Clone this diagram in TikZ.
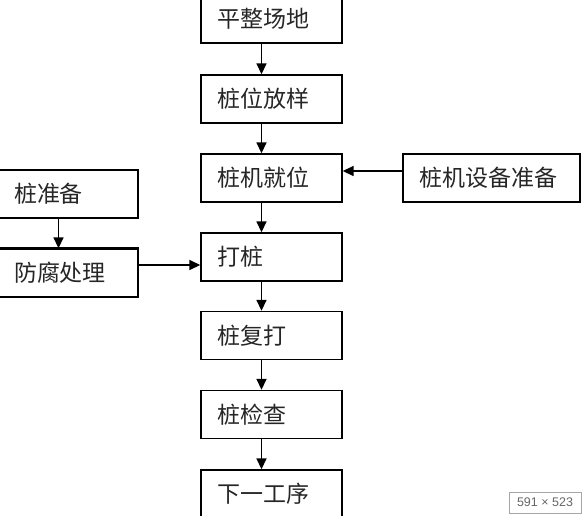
\documentclass[tikz,border=0pt]{standalone}
\usepackage{fontspec}
\newfontfamily\cjk{Noto Sans CJK SC}
\newfontfamily\uifont{Liberation Sans}
\usetikzlibrary{arrows.meta}
\tikzset{
  box/.style={draw, line width=1.4pt, inner xsep=16pt, inner ysep=0pt,
    minimum height=48pt, align=left, font=\cjk\fontsize{23}{26}\selectfont, text=black!85},
  flow/.style={line width=1.6pt, -{Triangle[length=11pt,width=10pt]}}
}
\begin{document}
\begin{tikzpicture}[x=1pt,y=-1pt]
      \useasboundingbox (0,0) rectangle (582,515);
      \draw
        (271.5,19) node[box, text width=109pt] (pingzheng){平整场地}
        (271.5,99) node[box, text width=109pt] (zhuangwei){桩位放样}
        (271.5,178) node[box, text width=109pt] (jiuwei){桩机就位}
        (271.5,257) node[box, text width=109pt] (dazhuang){打桩}
        (271.5,335.5) node[box, text width=109pt] (fuda){桩复打}
        (271.5,414.5) node[box, text width=109pt] (jiancha){桩检查}
        (271.5,494) node[box, text width=109pt] (xiayi){下一工序}
        (491.5,178) node[box, text width=145pt] (shebei){桩机设备准备}
        (68.5,194) node[box, text width=109pt, inner xsep=15pt] (zhunbei){桩准备}
        (68.5,273) node[box, text width=109pt, inner xsep=15pt] (fangfu){防腐处理};
      \draw[line width=2.6pt] (fangfu.north west) -- (fangfu.north east);
      \begin{scope}[flow]
        \draw ([xshift=-10pt]pingzheng.south) to ([xshift=-10pt]zhuangwei.north);
        \draw ([xshift=-10pt]zhuangwei.south) to ([xshift=-10pt]jiuwei.north);
        \draw ([xshift=-10pt]jiuwei.south) to ([xshift=-10pt]dazhuang.north);
        \draw ([xshift=-10pt]dazhuang.south) to ([xshift=-10pt]fuda.north);
        \draw ([xshift=-10pt]fuda.south) to ([xshift=-10pt]jiancha.north);
        \draw ([xshift=-10pt]jiancha.south) to ([xshift=-10pt]xiayi.north);
        \draw ([yshift=7pt]shebei.west) to ([yshift=7pt]jiuwei.east);
        \draw ([xshift=-10pt]zhunbei.south) to ([xshift=-10pt]fangfu.north);
        \draw ([yshift=8pt]fangfu.east) to ([yshift=-8pt]dazhuang.west);
      \end{scope}
      \node[draw=black!35, fill=white, text=black!60, font=\uifont\fontsize{12.5}{14}\selectfont,
        minimum width=72pt, minimum height=21pt, inner sep=0pt] (size) at (545,502.5) {591 × 523};
    \end{tikzpicture}
\end{document}
